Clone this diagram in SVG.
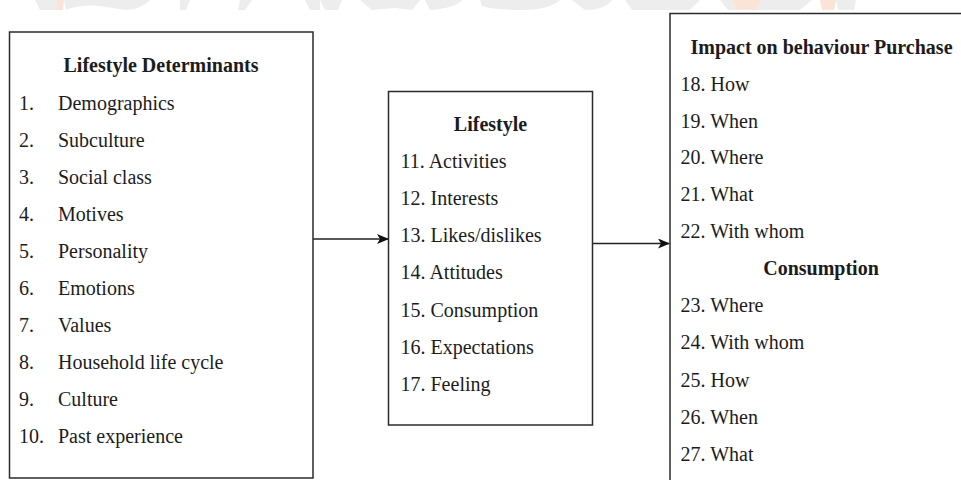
<svg xmlns="http://www.w3.org/2000/svg" width="961" height="480" viewBox="0 0 961 480">
  <style>
    .box { fill: #ffffff; stroke: #2b2b2b; stroke-width: 1.5; }
    .t { font-family: "Liberation Serif", "Times New Roman", serif; font-size: 20px; fill: #1c1c1c; }
    .h { font-weight: bold; text-anchor: middle; }
    .conn { stroke: #222222; stroke-width: 1.6; fill: none; }
    .wm { fill: #ededed; }
    .wmo { fill: #fbe4d6; }
  </style>
  <defs>
    <marker id="arrow" viewBox="0 0 12 10" refX="11" refY="5" markerWidth="12" markerHeight="10" markerUnits="userSpaceOnUse" orient="auto">
      <path d="M0,0 L12,5 L0,10 L3,5 Z" fill="#111111"/>
    </marker>
    <clipPath id="band"><rect x="0" y="0" width="961" height="10"/></clipPath>
  </defs>

  <!-- faint emblem strip along the top edge -->
  <g id="emblem" clip-path="url(#band)">
    <path class="wm" d="M35,0 L60,0 L58,10 L40,10 Z"/>
    <path class="wmo" d="M57,0 L64,0 L63,10 L58,10 Z"/>
    <path class="wm" d="M64,0 L150,0 Q140,10 125,10 L100,6 Q80,4 66,10 Z"/>
    <path class="wm" d="M180,0 L190,0 L186,10 L180,10 Z"/>
    <path class="wm" d="M240,0 L252,0 L245,10 L238,10 Z"/>
    <path class="wm" d="M305,0 L320,0 L320,10 L310,10 Z"/>
    <path class="wm" d="M320,0 L342,0 L338,10 L325,10 Z"/>
    <path class="wm" d="M360,0 L420,0 L412,10 L395,8 L372,10 Z"/>
    <path class="wm" d="M425,0 L462,0 Q455,8 430,10 Z"/>
    <path class="wm" d="M480,0 L560,0 Q550,10 520,10 Q495,10 482,6 Z"/>
    <path class="wm" d="M572,0 L612,0 Q605,10 585,10 Z"/>
    <path class="wm" d="M625,0 L700,0 L690,10 L632,10 Z"/>
    <path class="wm" d="M720,0 L812,0 L800,10 L728,10 Z"/>
    <path class="wmo" d="M732,0 L762,0 L755,10 L738,10 Z"/>
    <path class="wmo" d="M820,0 L836,0 L834,10 L822,10 Z"/>
    <path class="wm" d="M836,0 L856,0 L854,10 L838,10 Z"/>
  </g>

  <!-- connectors -->
  <g id="connectors">
    <line class="conn" x1="313" y1="239" x2="388" y2="239" marker-end="url(#arrow)"/>
    <line class="conn" x1="592" y1="243.5" x2="669" y2="243.5" marker-end="url(#arrow)"/>
  </g>

  <!-- lifestyle determinants -->
  <g id="determinants">
    <rect class="box" x="9.5" y="32" width="303.5" height="446"/>
    <text class="t h" x="161" y="72">Lifestyle Determinants</text>
    <text class="t" x="19" y="109.5">1.</text><text class="t" x="58" y="109.5">Demographics</text>
    <text class="t" x="19" y="146.5">2.</text><text class="t" x="58" y="146.5">Subculture</text>
    <text class="t" x="19" y="183.5">3.</text><text class="t" x="58" y="183.5">Social class</text>
    <text class="t" x="19" y="220.5">4.</text><text class="t" x="58" y="220.5">Motives</text>
    <text class="t" x="19" y="257.5">5.</text><text class="t" x="58" y="257.5">Personality</text>
    <text class="t" x="19" y="294.5">6.</text><text class="t" x="58" y="294.5">Emotions</text>
    <text class="t" x="19" y="331.5">7.</text><text class="t" x="58" y="331.5">Values</text>
    <text class="t" x="19" y="368.5">8.</text><text class="t" x="58" y="368.5">Household life cycle</text>
    <text class="t" x="19" y="405.5">9.</text><text class="t" x="58" y="405.5">Culture</text>
    <text class="t" x="19" y="442.5">10.</text><text class="t" x="58" y="442.5">Past experience</text>
  </g>

  <!-- lifestyle -->
  <g id="lifestyle">
    <rect class="box" x="388.5" y="91.5" width="204" height="333.5"/>
    <text class="t h" x="490.5" y="131">Lifestyle</text>
    <text class="t" x="400.5" y="168">11. Activities</text>
    <text class="t" x="400.5" y="205">12. Interests</text>
    <text class="t" x="400.5" y="242">13. Likes/dislikes</text>
    <text class="t" x="400.5" y="279">14. Attitudes</text>
    <text class="t" x="400.5" y="316.5">15. Consumption</text>
    <text class="t" x="400.5" y="353.5">16. Expectations</text>
    <text class="t" x="400.5" y="390.5">17. Feeling</text>
  </g>

  <!-- impact on behaviour -->
  <g id="impact">
    <rect class="box" x="670" y="13.5" width="310" height="480"/>
    <text class="t h" x="821.5" y="53.5">Impact on behaviour Purchase</text>
    <text class="t" x="680.5" y="91">18. How</text>
    <text class="t" x="680.5" y="127.5">19. When</text>
    <text class="t" x="680.5" y="164">20. Where</text>
    <text class="t" x="680.5" y="200.5">21. What</text>
    <text class="t" x="680.5" y="237.5">22. With whom</text>
    <text class="t h" x="821" y="275">Consumption</text>
    <text class="t" x="680.5" y="312">23. Where</text>
    <text class="t" x="680.5" y="349">24. With whom</text>
    <text class="t" x="680.5" y="386.5">25. How</text>
    <text class="t" x="680.5" y="423.5">26. When</text>
    <text class="t" x="680.5" y="461">27. What</text>
  </g>
</svg>
